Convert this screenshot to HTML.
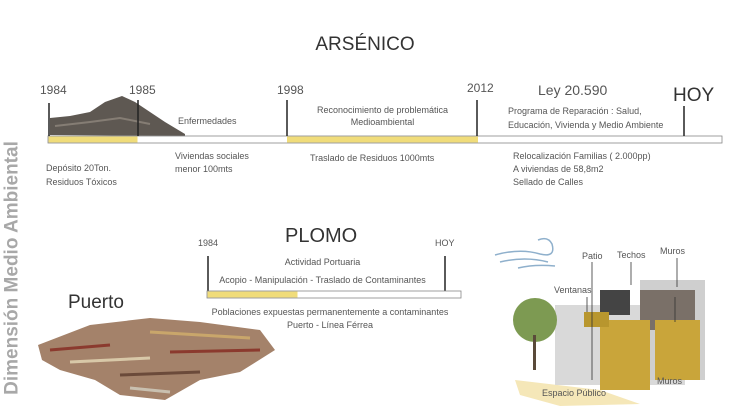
<!DOCTYPE html>
<html><head><meta charset="utf-8"><style>
body{margin:0;width:730px;height:411px;background:#fff;position:relative;overflow:hidden;font-family:"Liberation Sans",sans-serif;color:#444}
.t{position:absolute;white-space:nowrap;font-size:9px;line-height:12px;color:#555}
.c{text-align:center}
</style></head><body>
<svg width="730" height="411" style="position:absolute;left:0;top:0">
<path d="M50 135 L50 118 L70 116 L90 112 L105 102 L122 96 L135 102 L150 112 L165 122 L185 134 L185 136 Z" fill="#5e5852"/>
<path d="M55 126 L90 122 L120 118 L150 124" stroke="#857d74" fill="none" stroke-width="2"/>
<rect x="48" y="136" width="674" height="7" fill="#fff" stroke="#888" stroke-width="0.8"/>
<rect x="48.5" y="136.5" width="89" height="6" fill="#f0dc7a"/>
<rect x="287" y="136.5" width="191" height="6" fill="#f0dc7a"/>
<g stroke="#222" stroke-width="1.5">
<line x1="49" y1="103" x2="49" y2="136"/><line x1="138" y1="100" x2="138" y2="136"/>
<line x1="287" y1="100" x2="287" y2="136"/><line x1="477" y1="100" x2="477" y2="136"/>
<line x1="684" y1="106" x2="684" y2="136"/>
<line x1="208" y1="256" x2="208" y2="291"/><line x1="445" y1="256" x2="445" y2="291"/>
</g>
<rect x="207" y="291" width="254" height="7" fill="#fff" stroke="#888" stroke-width="0.8"/>
<rect x="207.5" y="291.5" width="90" height="6" fill="#f0dc7a"/>
<path d="M38 345 L90 325 L150 318 L200 322 L260 330 L275 350 L240 372 L200 380 L165 400 L120 395 L95 380 L60 370 L42 360 Z" fill="#a4826a"/>
<g stroke-width="3">
<line x1="50" y1="350" x2="110" y2="345" stroke="#8b3a2e"/>
<line x1="70" y1="362" x2="150" y2="358" stroke="#d8c8a8"/>
<line x1="120" y1="375" x2="200" y2="372" stroke="#6b4a3a"/>
<line x1="150" y1="332" x2="250" y2="338" stroke="#c9a66b"/>
<line x1="170" y1="352" x2="260" y2="350" stroke="#8b3a2e"/>
<line x1="130" y1="388" x2="170" y2="392" stroke="#c9c0b0"/>
</g>
<g stroke="#8fb0cc" stroke-width="1.5" fill="none">
<path d="M495 255 Q520 248 540 254 Q556 258 552 244 Q548 236 538 240"/>
<path d="M500 262 Q525 256 548 262"/><path d="M518 268 Q535 264 555 266"/>
</g>
<path d="M515 380 L600 390 L640 404 L560 406 L520 395 Z" fill="#f5e7b8"/>
<rect x="555" y="305" width="130" height="80" fill="#d9d9d9"/>
<rect x="600" y="290" width="30" height="25" fill="#444"/>
<rect x="640" y="280" width="65" height="100" fill="#cfcfcf"/>
<rect x="640" y="290" width="55" height="40" fill="#7a7068"/>
<rect x="600" y="320" width="50" height="70" fill="#c9a53a"/>
<rect x="655" y="320" width="45" height="60" fill="#c9a53a"/>
<rect x="584" y="312" width="25" height="15" fill="#b8962e"/>
<circle cx="535" cy="320" r="22" fill="#7d9a52"/>
<rect x="533" y="335" width="3" height="35" fill="#5a4a3a"/>
<g stroke="#333" stroke-width="0.8">
<line x1="592" y1="262" x2="592" y2="380"/><line x1="631" y1="262" x2="631" y2="285"/>
<line x1="677" y1="258" x2="677" y2="287"/><line x1="587" y1="297" x2="587" y2="312"/>
<line x1="675" y1="297" x2="675" y2="322"/>
</g>
</svg>
<div class="t" style="left:0;top:33px;width:730px;text-align:center;font-size:19px;line-height:24px;color:#333">ARSÉNICO</div>
<div class="t" style="left:40px;top:84px;font-size:12px">1984</div>
<div class="t" style="left:129px;top:84px;font-size:12px">1985</div>
<div class="t" style="left:277px;top:84px;font-size:12px">1998</div>
<div class="t" style="left:467px;top:82px;font-size:12px">2012</div>
<div class="t" style="left:538px;top:82px;font-size:14px;line-height:16px">Ley 20.590</div>
<div class="t" style="left:673px;top:86px;font-size:19px;line-height:20px;color:#333">HOY</div>
<div class="t" style="left:178px;top:115px">Enfermedades</div>
<div class="t c" style="left:300px;top:104px;width:165px">Reconocimiento de problemática<br>Medioambiental</div>
<div class="t" style="left:508px;top:104px;line-height:14px">Programa de Reparación : Salud,<br>Educación, Vivienda y Medio Ambiente</div>
<div class="t" style="left:46px;top:161px;line-height:14px">Depósito 20Ton.<br>Residuos Tóxicos</div>
<div class="t" style="left:175px;top:150px;line-height:13px">Viviendas sociales<br>menor 100mts</div>
<div class="t" style="left:310px;top:152px">Traslado de Residuos 1000mts</div>
<div class="t" style="left:513px;top:150px;line-height:13px">Relocalización Familias ( 2.000pp)<br>A viviendas de 58,8m2<br>Sellado de Calles</div>
<div class="t" style="left:285px;top:224px;font-size:20px;line-height:24px;color:#333">PLOMO</div>
<div class="t" style="left:198px;top:237px">1984</div>
<div class="t" style="left:435px;top:237px">HOY</div>
<div class="t c" style="left:240px;top:256px;width:165px">Actividad Portuaria</div>
<div class="t c" style="left:200px;top:274px;width:245px">Acopio - Manipulación - Traslado de Contaminantes</div>
<div class="t c" style="left:200px;top:306px;width:260px;line-height:13px">Poblaciones expuestas permanentemente a contaminantes<br>Puerto - Línea Férrea</div>
<div class="t" style="left:68px;top:291px;font-size:19px;line-height:24px;color:#333">Puerto</div>
<div class="t" style="left:582px;top:250px">Patio</div>
<div class="t" style="left:617px;top:249px">Techos</div>
<div class="t" style="left:660px;top:245px">Muros</div>
<div class="t" style="left:554px;top:284px">Ventanas</div>
<div class="t" style="left:542px;top:387px">Espacio Público</div>
<div class="t" style="left:657px;top:375px">Muros</div>
<div class="t" style="left:-125px;top:257px;width:275px;text-align:center;transform:rotate(-90deg);font-size:19px;line-height:22px;font-weight:bold;color:#a8a8a8">Dimensión Medio Ambiental</div>
</body></html>
